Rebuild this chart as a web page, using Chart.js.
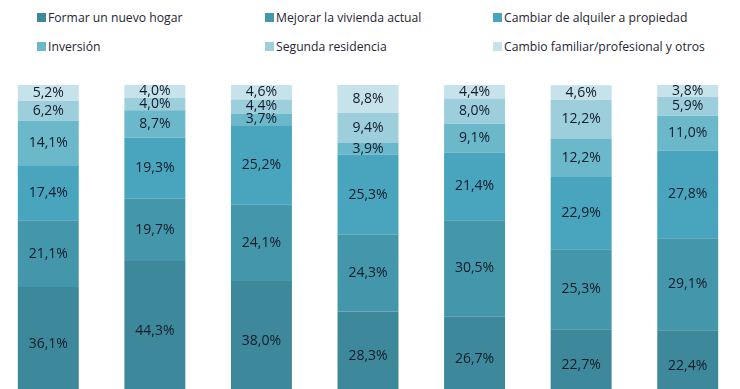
<!DOCTYPE html>
<html>
<head>
<meta charset="utf-8">
<script src="https://cdn.jsdelivr.net/npm/chart.js@4/dist/chart.umd.min.js"></script>
<style>
  html, body { margin: 0; padding: 0; background: #fff; overflow: hidden; }
  body { width: 740px; height: 389px; position: relative; font-family: "Open Sans", sans-serif; }
  #legend { position: absolute; left: 0; top: 0; width: 740px; height: 70px; }
  .item { position: absolute; display: flex; align-items: center; font-size: 12.2px; color: #1f2533; white-space: nowrap; }
  .box { width: 9px; height: 9px; margin-right: 2px; }
  #wrap { position: absolute; left: -5px; top: 85px; width: 746px; height: 316px; }
</style>
</head>
<body>
<div id="legend"></div>
<div id="wrap"><canvas id="chart"></canvas></div>
<script>
// categories are cut off in the picture, so only placeholders
const categories = ['1', '2', '3', '4', '5', '6', '7'];

const seriesNames = [
  'Formar un nuevo hogar',
  'Mejorar la vivienda actual',
  'Cambiar de alquiler a propiedad',
  'Inversión',
  'Segunda residencia',
  'Cambio familiar/profesional y otros'
];

const formarHogar   = [36.1, 44.3, 38.0, 28.3, 26.7, 22.7, 22.4];
const mejorar       = [21.1, 19.7, 24.1, 24.3, 30.5, 25.3, 29.1];
const alquilerProp  = [17.4, 19.3, 25.2, 25.3, 21.4, 22.9, 27.8];
const inversion     = [14.1, 8.7, 3.7, 3.9, 9.1, 12.2, 11.0];
const segunda       = [6.2, 4.0, 4.4, 9.4, 8.0, 12.2, 5.9];
const cambioOtros   = [5.2, 4.0, 4.6, 8.8, 4.4, 4.6, 3.8];

const colors = ['#3d899b', '#4497ab', '#49a5be', '#6bb8ca', '#9ccfdb', '#c6e2ea'];

const series = [formarHogar, mejorar, alquilerProp, inversion, segunda, cambioOtros];

// legend laid out in 3 fixed columns, 2 rows
const legendCols = [37, 265, 493];
const legendRows = [18, 47];
const legend = document.getElementById('legend');
seriesNames.forEach((name, i) => {
  const el = document.createElement('div');
  el.className = 'item';
  el.style.left = legendCols[i % 3] + 'px';
  el.style.top = (legendRows[Math.floor(i / 3)] - 9) + 'px';
  el.innerHTML = '<span class="box" style="background:' + colors[i] + '"></span>' + name;
  legend.appendChild(el);
});

const segmentLabels = {
  id: 'segmentLabels',
  afterDatasetsDraw(chart) {
    const ctx = chart.ctx;
    ctx.save();
    ctx.font = '14px "Open Sans", sans-serif';
    ctx.fillStyle = '#141b29';
    ctx.textAlign = 'center';
    ctx.textBaseline = 'middle';
    chart.data.datasets.forEach((ds, i) => {
      chart.getDatasetMeta(i).data.forEach((bar, j) => {
        const y = (bar.y + bar.base) / 2;
        ctx.fillText(ds.data[j].toFixed(1).replace('.', ',') + '%', bar.x, y);
      });
    });
    ctx.restore();
  }
};

new Chart(document.getElementById('chart'), {
  type: 'bar',
  data: {
    labels: categories,
    datasets: series.map((values, i) => ({
      label: seriesNames[i],
      data: values,
      backgroundColor: colors[i],
      borderWidth: 0,
      categoryPercentage: 1,
      barPercentage: 0.572
    }))
  },
  options: {
    responsive: true,
    maintainAspectRatio: false,
    animation: false,
    layout: { padding: 0 },
    plugins: {
      legend: { display: false },
      tooltip: { enabled: false }
    },
    scales: {
      x: { stacked: true, display: false },
      y: { stacked: true, display: false, min: 0, max: 100 }
    }
  },
  plugins: [segmentLabels]
});
</script>
</body>
</html>
